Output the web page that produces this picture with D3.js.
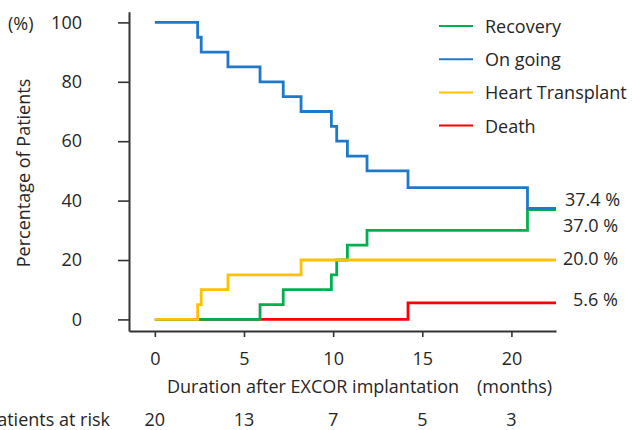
<!DOCTYPE html>
<html>
<head>
<meta charset="utf-8">
<script src="https://cdn.jsdelivr.net/npm/d3@7"></script>
<style>
  body { margin: 0; background: #fff; }
  svg text { font-family: "Open Sans", sans-serif; fill: #262626; }
</style>
</head>
<body>
<div id="wrapper"></div>
<script>
// Cumulative incidence (%) after EXCOR implantation, step data
const seriesNames = ["Recovery", "On going", "Heart Transplant", "Death"]
const seriesColors = ["#00b050", "#1f78c8", "#ffc000", "#ff0000"]

const recoveryTimes = [0, 5.9, 7.2, 9.9, 10.2, 10.8, 11.9, 20.9, 22.5]
const recoveryValues = [0, 5, 10, 15, 20, 25, 30, 37.0, 37.0]

const ongoingTimes = [0, 2.4, 2.6, 4.1, 5.9, 7.2, 8.2, 9.9, 10.2, 10.8, 11.9, 14.2, 20.9, 22.5]
const ongoingValues = [100, 95, 90, 85, 80, 75, 70, 65, 60, 55, 50, 44.4, 37.4, 37.4]

const transplantTimes = [0, 2.4, 2.6, 4.1, 8.2, 22.5]
const transplantValues = [0, 5, 10, 15, 20, 20]

const deathTimes = [0, 14.2, 22.5]
const deathValues = [0, 5.6, 5.6]

const endLabels = ["37.0 %", "37.4 %", "20.0 %", "5.6 %"]

const xTicks = [0, 5, 10, 15, 20]
const yTicks = [0, 20, 40, 60, 80, 100]
const atRisk = [20, 13, 7, 5, 3]

const width = 632
const height = 430
const fontSize = 18

const wrapper = d3.select("#wrapper")
    .append("svg")
    .attr("width", width)
    .attr("height", height)

const xScale = d3.scaleLinear()
    .domain([-1.45, 22.5])
    .range([129, 556])

const yScale = d3.scaleLinear()
    .domain([-3.9, 103.6])
    .range([331, 11.7])

// axes
const xAxisGen = d3.axisBottom(xScale)
    .tickValues(xTicks)
    .tickSizeInner(6)
    .tickSizeOuter(0)
    .tickPadding(15)

const yAxisGen = d3.axisLeft(yScale)
    .tickValues(yTicks)
    .tickSizeInner(11)
    .tickSizeOuter(0)
    .tickPadding(36)

const xAxis = wrapper.append("g")
    .attr("transform", "translate(0,331)")
    .call(xAxisGen)
const yAxis = wrapper.append("g")
    .attr("transform", "translate(129,0)")
    .call(yAxisGen)

;[xAxis, yAxis].forEach(ax => {
    ax.select(".domain").attr("stroke", "#333").attr("stroke-width", 2)
    ax.selectAll(".tick line").attr("stroke", "#333").attr("stroke-width", 1.6)
    ax.selectAll(".tick text")
        .attr("font-size", fontSize)
        .attr("font-family", "Open Sans, sans-serif")
        .attr("fill", "#262626")
})

// curves
const lineGen = d3.line()
    .x(d => xScale(d[0]))
    .y(d => yScale(d[1]))
    .curve(d3.curveStepAfter)

const series = [
    { name: "Death", times: deathTimes, values: deathValues, color: seriesColors[3] },
    { name: "Recovery", times: recoveryTimes, values: recoveryValues, color: seriesColors[0] },
    { name: "Heart Transplant", times: transplantTimes, values: transplantValues, color: seriesColors[2] },
    { name: "On going", times: ongoingTimes, values: ongoingValues, color: seriesColors[1] },
]

wrapper.append("g")
    .selectAll("path")
    .data(series)
    .join("path")
    .attr("d", d => lineGen(d3.zip(d.times, d.values)))
    .attr("fill", "none")
    .attr("stroke", d => d.color)
    .attr("stroke-width", 2.8)

// end value labels
const endValues = [recoveryValues.at(-1), ongoingValues.at(-1), transplantValues.at(-1), deathValues.at(-1)]
const endShift = [15, -9, -2, -4]
const endX = [563, 565, 563, 573]
wrapper.append("g")
    .selectAll("text")
    .data(endLabels)
    .join("text")
    .attr("x", (d, i) => endX[i])
    .attr("y", (d, i) => yScale(endValues[i]) + endShift[i])
    .attr("dominant-baseline", "central")
    .attr("font-size", fontSize)
    .text(d => d)

// legend
const legend = wrapper.append("g")
    .selectAll("g")
    .data(seriesNames)
    .join("g")
    .attr("transform", (d, i) => `translate(439,${26 + i * 33.2})`)
legend.append("line")
    .attr("x1", 0).attr("x2", 34)
    .attr("stroke", (d, i) => seriesColors[i])
    .attr("stroke-width", 2)
legend.append("text")
    .attr("x", 46)
    .attr("dominant-baseline", "central")
    .attr("font-size", fontSize)
    .text(d => d)

// axis titles
wrapper.append("text")
    .attr("x", 8)
    .attr("y", 23)
    .attr("dominant-baseline", "central")
    .attr("font-size", fontSize)
    .text("(%)")

wrapper.append("text")
    .attr("transform", "translate(22.5,173) rotate(-90)")
    .attr("text-anchor", "middle")
    .attr("dominant-baseline", "central")
    .attr("font-size", fontSize)
    .text("Percentage of Patients")

wrapper.append("text")
    .attr("x", 167)
    .attr("y", 386)
    .attr("dominant-baseline", "central")
    .attr("font-size", fontSize)
    .text("Duration after EXCOR implantation")

wrapper.append("text")
    .attr("x", 477)
    .attr("y", 386)
    .attr("dominant-baseline", "central")
    .attr("font-size", fontSize)
    .text("(months)")

// patients at risk
wrapper.append("text")
    .attr("x", 110)
    .attr("y", 419)
    .attr("text-anchor", "end")
    .attr("dominant-baseline", "central")
    .attr("font-size", fontSize)
    .text("Patients at risk")

wrapper.append("g")
    .selectAll("text")
    .data(atRisk)
    .join("text")
    .attr("x", (d, i) => xScale(xTicks[i]))
    .attr("y", 419)
    .attr("text-anchor", "middle")
    .attr("dominant-baseline", "central")
    .attr("font-size", fontSize)
    .text(d => d)
</script>
</body>
</html>
